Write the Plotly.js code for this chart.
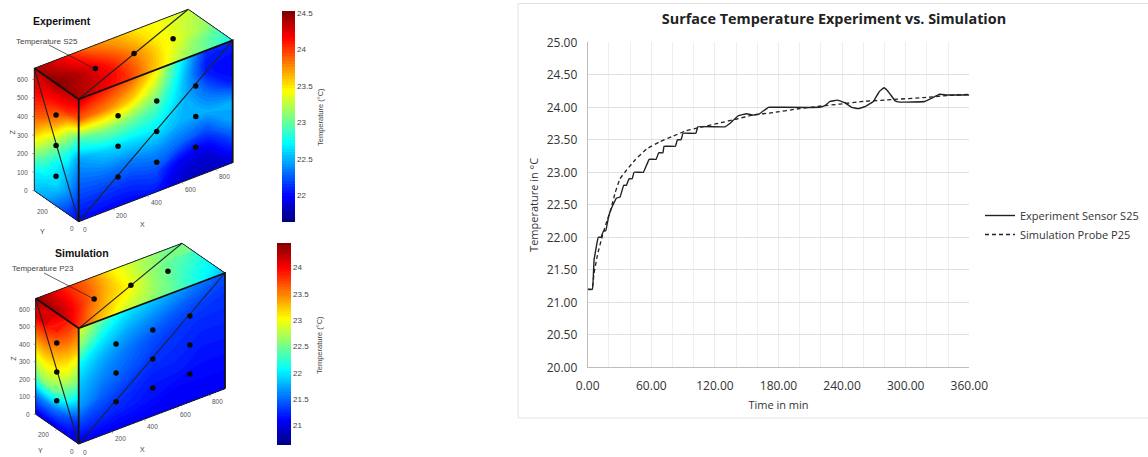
<!DOCTYPE html>
<html><head><meta charset="utf-8">
<script src="https://cdn.plot.ly/plotly-3.0.1.min.js"></script>
<style>html,body{margin:0;padding:0;background:#fff}#c{width:1148px;height:457px}</style>
</head><body><div id="c"></div>
<script>
// ---------- line chart data ----------
const expTime = [0,4.4,6,10,12.5,15,17,19.5,21.7,27,30.5,34,36.5,39,42,43.7,52.5,58,64.5,67,71,72,82.7,84.6,88,90,102,104,129.5,134,142,150,156,162,170.5,175,181,219,224,228.6,235.5,242.7,249,255,261.6,269.5,275,279.5,283.6,290,294.6,318,324.5,332,338.6,360];
const expTemp = [21.2,21.2,21.65,22,22,22.1,22.1,22.3,22.42,22.6,22.62,22.8,22.8,22.9,22.9,23,23,23.2,23.2,23.3,23.3,23.4,23.4,23.5,23.5,23.6,23.6,23.7,23.7,23.75,23.87,23.9,23.88,23.9,24,24,24,24,24.03,24.09,24.11,24.07,24,23.98,24.01,24.09,24.24,24.3,24.24,24.1,24.08,24.09,24.14,24.2,24.19,24.19];
const simTime = [0,4,6,9.5,14,18.5,21.7,25.8,30.5,37,44.7,55.7,68,81,93,106,125,140.6,156,175,200,220.7,238,260,288,317,339,360];
const simTemp = [21.2,21.2,21.45,21.75,22.03,22.27,22.42,22.68,22.9,23.04,23.19,23.36,23.47,23.56,23.64,23.69,23.76,23.82,23.88,23.92,23.98,24.02,24.05,24.09,24.12,24.15,24.18,24.2];
const xTicks = [0,60,120,180,240,300,360];

// ---------- box face temperature readings (deg C) ----------
const xLevels = [0,150,300,450,600,750,900];
const yLevels = [0,100,200,300,400];
const zLevels = [0,110,220,330,440,550,660];
// rows follow zLevels, columns follow xLevels
const expFront = [
 [22.0,22.0,22.0,22.05,21.85,21.8,21.9],
 [22.15,22.15,22.15,22.2,21.95,21.9,22.15],
 [22.3,22.35,22.35,22.4,22.3,22.2,22.45],
 [22.45,22.6,22.65,22.65,22.5,22.5,22.5],
 [22.9,23.1,23.05,22.9,22.55,22.3,22.05],
 [23.9,23.8,23.6,23.2,22.6,22.05,22.0],
 [24.3,24.1,23.9,23.5,22.7,22.1,22.1]];
// rows follow zLevels, columns follow yLevels
const expLeft = [
 [22.0,22.15,22.3,22.45,22.55],
 [22.15,22.4,22.6,22.65,22.7],
 [22.3,22.55,22.7,22.95,23.2],
 [22.45,22.8,23.1,23.4,23.7],
 [22.9,23.3,23.7,23.9,24.0],
 [23.9,24.05,24.1,24.15,24.2],
 [24.3,24.35,24.4,24.35,24.3]];
// rows follow yLevels, columns follow xLevels
const expTop = [
 [24.4,24.2,24.0,23.6,23.2,23.0,22.75],
 [24.45,24.3,24.1,23.75,23.4,23.1,22.9],
 [24.5,24.35,24.1,23.8,23.5,23.3,23.1],
 [24.45,24.25,24.0,23.75,23.5,23.35,23.2],
 [24.4,24.2,23.85,23.7,23.5,23.4,23.3]];
const simFront = [
 [21.0,21.05,21.05,21.05,21.05,21.05,21.05],
 [21.35,21.25,21.2,21.15,21.1,21.1,21.1],
 [21.7,21.45,21.3,21.2,21.2,21.15,21.15],
 [21.85,21.6,21.45,21.3,21.25,21.2,21.2],
 [22.05,21.75,21.55,21.4,21.3,21.25,21.25],
 [22.6,22.0,21.75,21.6,21.45,21.35,21.3],
 [22.95,22.4,22.0,21.85,21.7,21.55,21.4]];
const simLeft = [
 [21.0,21.0,21.0,21.0,21.0],
 [21.2,21.4,21.55,21.6,21.55],
 [21.8,22.2,22.5,22.6,22.45],
 [22.4,22.8,23.0,23.05,22.95],
 [22.8,23.2,23.4,23.5,23.45],
 [23.3,23.6,23.8,23.95,24.0],
 [23.6,23.9,24.1,24.2,24.3]];
const simTop = [
 [23.8,23.2,22.8,22.6,22.4,22.1,21.8],
 [24.1,23.5,23.1,22.8,22.5,22.2,22.0],
 [24.3,23.8,23.3,23.0,22.6,22.35,22.15],
 [24.35,23.9,23.5,23.05,22.7,22.45,22.3],
 [24.4,23.95,23.6,23.1,22.8,22.6,22.5]];

// sensor positions on each face
const sensorX = [230,456,684];
const sensorY = [204];
const sensorZ = [160,325,490];

const boxX = 900, boxY = 400, boxZ = 660;
const xTickVals = [200,400,600,800];
const zTickVals = [0,100,200,300,400,500,600];

const jet = [[0,'#00007f'],[0.125,'#0000ff'],[0.375,'#00ffff'],[0.625,'#ffff00'],[0.875,'#ff0000'],[1,'#7f0000']];

const panels = [
 {id:'e',O:[78.7,221.7],ex:[154,-59],ey:[-44.4,-31],ez:[0,-122.4],front:expFront,left:expLeft,top:expTop,
  zmin:21.64,zmax:24.53,cbTicks:[22,22.5,23,23.5,24,24.5],cb:{x:281.7,w:12.6,top:10.7,bot:221.7},
  title:'Experiment',titlePos:[62,21],sensor:'Temperature S25',sensorPos:[47,41],arrow:[[49,45],[95,69]],
  xLab:[142.7,224],yLab:[42.3,231.7],zLab:[12.7,131.7],cbText:[320,117]},
 {id:'s',O:[78.7,444],ex:[146.3,-55.3],ey:[-43,-29.7],ez:[0,-115.7],front:simFront,left:simLeft,top:simTop,
  zmin:20.62,zmax:24.46,cbTicks:[21,21.5,22,22.5,23,23.5,24],cb:{x:276.7,w:13.6,top:243.3,bot:445},
  title:'Simulation',titlePos:[82,253],sensor:'Temperature P23',sensorPos:[43,268],arrow:[[44,273],[94,299]],
  xLab:[142.7,449.3],yLab:[40,450],zLab:[12.7,358],cbText:[319,345]}
];
function proj(p,X,Y,Z){
  return [p.O[0]+p.ex[0]*X/boxX+p.ey[0]*Y/boxY+p.ez[0]*Z/boxZ,
          p.O[1]+p.ex[1]*X/boxX+p.ey[1]*Y/boxY+p.ez[1]*Z/boxZ];
}
const traces = [], annotations = [];
const W = 1148, H = 457;
const note = (x,y,text,size,color,extra)=>annotations.push(Object.assign({xref:'x',yref:'y',x:x,y:y,text:text,showarrow:false,
   font:{family:'"Liberation Sans",Arial,sans-serif',size:size,color:color}},extra||{}));

function addFace(p,name,aLev,bLev,z,map,withBar){
  const cid = p.id+name;
  const xs = bLev.map(b=>aLev.map(a=>map(a,b)[0]));
  const ys = bLev.map(b=>aLev.map(a=>map(a,b)[1]));
  const hidden = {showgrid:false,showticklabels:'none',showline:false,startline:false,endline:false,minorgridcount:0,smoothing:0,ticks:'',title:{text:''}};
  traces.push({type:'carpet',carpet:cid,a:aLev,b:bLev,x:xs,y:ys,aaxis:hidden,baxis:hidden,xaxis:'x',yaxis:'y',hoverinfo:'skip',showlegend:false});
  const t = {type:'contourcarpet',carpet:cid,a:aLev,b:bLev,z:z,xaxis:'x',yaxis:'y',autocontour:false,
     contours:{start:p.zmin-0.2,end:p.zmax+0.2,size:0.04,coloring:'fill',showlines:false},line:{width:0},
     zauto:false,zmin:p.zmin,zmax:p.zmax,colorscale:jet,showscale:!!withBar,showlegend:false,hoverinfo:'skip'};
  if(withBar){
    t.colorbar = {xref:'paper',yref:'paper',x:p.cb.x/W,xanchor:'left',xpad:0,ypad:0,y:1-p.cb.top/H,yanchor:'top',
      lenmode:'pixels',len:p.cb.bot-p.cb.top,thicknessmode:'pixels',thickness:p.cb.w,outlinewidth:0,ticks:'',
      tickvals:p.cbTicks,ticktext:p.cbTicks.map(String),tickfont:{family:'"Liberation Sans",Arial,sans-serif',size:8,color:'#444'},
      title:{text:''}};
  }
  traces.push(t);
}
const seg = (p,pts,w,color)=>traces.push({type:'scatter',mode:'lines',xaxis:'x',yaxis:'y',x:pts.map(q=>q?q[0]:null),y:pts.map(q=>q?q[1]:null),
   line:{color:color||'#111',width:w},hoverinfo:'skip',showlegend:false,cliponaxis:false});

panels.forEach(p=>{
  addFace(p,'F',xLevels,zLevels,p.front,(a,b)=>proj(p,a,0,b),true);
  addFace(p,'L',yLevels,zLevels,p.left,(a,b)=>proj(p,0,a,b),false);
  addFace(p,'T',xLevels,yLevels,p.top,(a,b)=>proj(p,a,b,boxZ),false);
  const c=(x,y,z)=>proj(p,x,y,z);
  // box edges and diagonals
  seg(p,[c(0,0,0),c(boxX,0,0),null,c(0,boxY,0),c(0,0,0)],1,'#222');
  seg(p,[c(0,boxY,0),c(0,boxY,boxZ),null,c(boxX,boxY,boxZ),c(boxX,0,boxZ),null,c(0,boxY,boxZ),c(boxX,boxY,boxZ)],1,'#222');
  seg(p,[c(0,0,0),c(boxX,0,boxZ),null,c(0,0,0),c(0,boxY,boxZ),null,c(0,0,boxZ),c(boxX,boxY,boxZ)],1.1,'#222');
  seg(p,[c(0,boxY,boxZ),c(0,0,boxZ),c(boxX,0,boxZ),c(boxX,0,0),null,c(0,0,0),c(0,0,boxZ)],1.8,'#111');
  // sensors
  const pts=[];
  sensorX.forEach(x=>sensorZ.forEach(z=>pts.push(c(x,0,z))));
  sensorZ.forEach(z=>pts.push(c(0,sensorY[0],z)));
  sensorX.forEach(x=>pts.push(c(x,sensorY[0],boxZ)));
  traces.push({type:'scatter',mode:'markers',xaxis:'x',yaxis:'y',x:pts.map(q=>q[0]),y:pts.map(q=>q[1]),
    marker:{color:'#0a0a0a',size:5.5,line:{width:0}},hoverinfo:'skip',showlegend:false,cliponaxis:false});
  // axis ticks and labels
  const tk=[];
  zTickVals.forEach(z=>{const q=c(0,boxY,z);tk.push([q[0]-2,q[1]],q,null);note(q[0]-4,q[1],String(z),6.5,'#555',{xanchor:'right'});});
  xTickVals.forEach(x=>{const q=c(x,0,0);tk.push(q,[q[0]+2,q[1]+1.5],null);note(q[0]+9,q[1]+7,String(x),6.5,'#555');});
  const qy=c(0,200,0);tk.push(qy,[qy[0]-2,qy[1]+1.5]);
  seg(p,tk,0.7,'#777');
  note(qy[0]-14,qy[1]+5,'200',6.5,'#555');
  note(p.O[0]-7,p.O[1]+7,'0',6.5,'#555');
  note(p.O[0]+6,p.O[1]+8,'0',6.5,'#555');
  note(p.xLab[0],p.xLab[1],'X',7,'#444');
  note(p.yLab[0],p.yLab[1],'Y',7,'#444');
  note(p.zLab[0],p.zLab[1],'Z',7,'#444',{textangle:-90});
  note(p.cbText[0],p.cbText[1],'Temperature (°C)',7.5,'#444',{textangle:-90});
  note(p.titlePos[0],p.titlePos[1],'<b>'+p.title+'</b>',10.5,'#111');
  note(p.sensorPos[0],p.sensorPos[1],p.sensor,8,'#444');
  seg(p,p.arrow,0.7,'#222');
});

// line chart
traces.push({type:'scatter',mode:'lines',name:'Experiment Sensor S25',x:expTime,y:expTemp,xaxis:'x2',yaxis:'y2',
  line:{color:'#222',width:1.4,shape:'spline',smoothing:0.25},hoverinfo:'skip'});
traces.push({type:'scatter',mode:'lines',name:'Simulation Probe P25',x:simTime,y:simTemp,xaxis:'x2',yaxis:'y2',
  line:{color:'#222',width:1.3,dash:'4px,3px',shape:'spline',smoothing:0.4},hoverinfo:'skip'});

const sans = '"Open Sans",Arial,sans-serif';
const layout = {
  width:W,height:H,margin:{l:0,r:0,t:0,b:0},paper_bgcolor:'#fff',plot_bgcolor:'rgba(0,0,0,0)',
  title:{text:'<b>Surface Temperature Experiment vs. Simulation</b>',x:834/W,xref:'paper',xanchor:'center',y:1-19/H,yref:'paper',yanchor:'middle',font:{family:sans,size:14.4,color:'#222'}},
  xaxis:{domain:[0,1],range:[0,W],visible:false,fixedrange:true},
  yaxis:{domain:[0,1],range:[H,0],visible:false,fixedrange:true},
  xaxis2:{domain:[587.7/W,969.3/W],range:[0,360],anchor:'y2',tickvals:xTicks,tickformat:'.2f',
    showgrid:true,gridcolor:'#ececec',gridwidth:1,zeroline:false,showline:true,linecolor:'#bdbdbd',linewidth:1,ticks:'outside',ticklen:7,tickcolor:'rgba(0,0,0,0)',
    minor:{dtick:20,tick0:0,showgrid:true,gridcolor:'#efefef',gridwidth:1,ticks:''},
    tickfont:{family:sans,size:12,color:'#333'},title:{text:'Time in min',font:{family:sans,size:11,color:'#333'},standoff:8},fixedrange:true},
  yaxis2:{domain:[1-367.3/H,1-42.3/H],range:[20,25],anchor:'x2',dtick:0.5,tick0:20,tickformat:'.2f',
    showgrid:true,gridcolor:'#dfdfdf',gridwidth:1,zeroline:false,showline:true,linecolor:'#bdbdbd',linewidth:1,ticks:'outside',ticklen:7,tickcolor:'rgba(0,0,0,0)',
    tickfont:{family:sans,size:12,color:'#333'},title:{text:'Temperature in °C',font:{family:sans,size:11,color:'#333'},standoff:5},fixedrange:true},
  legend:{x:980/W,xanchor:'left',y:1-225/H,yanchor:'middle',bgcolor:'rgba(0,0,0,0)',borderwidth:0,font:{family:sans,size:11,color:'#333'},itemwidth:30,tracegroupgap:0},
  shapes:[{type:'rect',xref:'paper',yref:'paper',x0:518/W,x1:1.01,y0:1-418/H,y1:1-3.5/H,line:{color:'#e3e3e3',width:1},fillcolor:'rgba(0,0,0,0)',layer:'below'}],
  annotations:annotations
};
Plotly.newPlot('c',traces,layout,{displayModeBar:false,staticPlot:true});
</script></body></html>
